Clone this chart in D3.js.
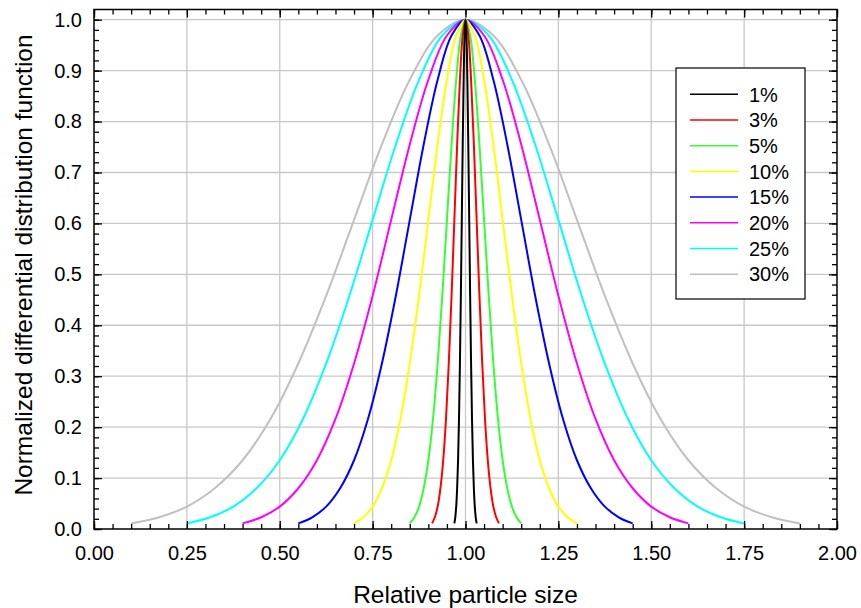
<!DOCTYPE html>
<html>
<head>
<meta charset="utf-8">
<script src="https://cdn.jsdelivr.net/npm/d3@7"></script>
<style>
  html, body { margin: 0; padding: 0; background: #fff; }
  svg text { font-family: "Liberation Sans", Arial, sans-serif; fill: #000; }
</style>
</head>
<body>
<svg id="chart" width="861" height="608"></svg>
<script>
// ---- Data ----
const categories = ["1%", "3%", "5%", "10%", "15%", "20%", "25%", "30%"];
const colors = ["#000000", "#ff0000", "#33ff33", "#ffff00", "#0000ff", "#ff00ff", "#00ffff", "#c0c0c0"];

// normalized height at each sampled point (shared shape of every curve)
const yProfile = [0.011, 0.023, 0.044, 0.080, 0.135, 0.216, 0.325, 0.458, 0.607, 0.755, 0.882, 0.969, 1.000,
                  0.969, 0.882, 0.755, 0.607, 0.458, 0.325, 0.216, 0.135, 0.080, 0.044, 0.023, 0.011];

const x1 = [0.97, 0.9725, 0.975, 0.9775, 0.98, 0.9825, 0.985, 0.9875, 0.99, 0.9925, 0.995, 0.9975, 1.00,
            1.0025, 1.005, 1.0075, 1.01, 1.0125, 1.015, 1.0175, 1.02, 1.0225, 1.025, 1.0275, 1.03];
const x3 = [0.91, 0.9175, 0.925, 0.9325, 0.94, 0.9475, 0.955, 0.9625, 0.97, 0.9775, 0.985, 0.9925, 1.00,
            1.0075, 1.015, 1.0225, 1.03, 1.0375, 1.045, 1.0525, 1.06, 1.0675, 1.075, 1.0825, 1.09];
const x5 = [0.85, 0.8625, 0.875, 0.8875, 0.90, 0.9125, 0.925, 0.9375, 0.95, 0.9625, 0.975, 0.9875, 1.00,
            1.0125, 1.025, 1.0375, 1.05, 1.0625, 1.075, 1.0875, 1.10, 1.1125, 1.125, 1.1375, 1.15];
const x10 = [0.70, 0.725, 0.75, 0.775, 0.80, 0.825, 0.85, 0.875, 0.90, 0.925, 0.95, 0.975, 1.00,
             1.025, 1.05, 1.075, 1.10, 1.125, 1.15, 1.175, 1.20, 1.225, 1.25, 1.275, 1.30];
const x15 = [0.55, 0.5875, 0.625, 0.6625, 0.70, 0.7375, 0.775, 0.8125, 0.85, 0.8875, 0.925, 0.9625, 1.00,
             1.0375, 1.075, 1.1125, 1.15, 1.1875, 1.225, 1.2625, 1.30, 1.3375, 1.375, 1.4125, 1.45];
const x20 = [0.40, 0.45, 0.50, 0.55, 0.60, 0.65, 0.70, 0.75, 0.80, 0.85, 0.90, 0.95, 1.00,
             1.05, 1.10, 1.15, 1.20, 1.25, 1.30, 1.35, 1.40, 1.45, 1.50, 1.55, 1.60];
const x25 = [0.25, 0.3125, 0.375, 0.4375, 0.50, 0.5625, 0.625, 0.6875, 0.75, 0.8125, 0.875, 0.9375, 1.00,
             1.0625, 1.125, 1.1875, 1.25, 1.3125, 1.375, 1.4375, 1.50, 1.5625, 1.625, 1.6875, 1.75];
const x30 = [0.10, 0.175, 0.25, 0.325, 0.40, 0.475, 0.55, 0.625, 0.70, 0.775, 0.85, 0.925, 1.00,
             1.075, 1.15, 1.225, 1.30, 1.375, 1.45, 1.525, 1.60, 1.675, 1.75, 1.825, 1.90];
const xSeries = [x1, x3, x5, x10, x15, x20, x25, x30];

const xTicks = [0, 0.25, 0.5, 0.75, 1.0, 1.25, 1.5, 1.75, 2.0];
const yTicks = [0, 0.1, 0.2, 0.3, 0.4, 0.5, 0.6, 0.7, 0.8, 0.9, 1.0];
const xTitle = "Relative particle size";
const yTitle = "Normalized differential distribution function";

// ---- Layout ----
const W = 861, H = 608;
const margin = { left: 94, right: 24, top: 9.5, bottom: 79 };
const iw = W - margin.left - margin.right;
const ih = H - margin.top - margin.bottom;

const svg = d3.select("#chart");
const g = svg.append("g").attr("transform", `translate(${margin.left},${margin.top})`);

const x = d3.scaleLinear().domain([0, 2]).range([0, iw]);
const y = d3.scaleLinear().domain([0, 1.02]).range([ih, 0]);

// grid
const gridColor = "#c8c8c8";
g.append("g").selectAll("line.vx").data(xTicks.slice(1, -1)).join("line")
  .attr("x1", d => x(d)).attr("x2", d => x(d)).attr("y1", 0).attr("y2", ih)
  .attr("stroke", gridColor).attr("stroke-width", 1.3);
g.append("g").selectAll("line.hy").data(yTicks.slice(1)).join("line")
  .attr("x1", 0).attr("x2", iw).attr("y1", d => y(d)).attr("y2", d => y(d))
  .attr("stroke", gridColor).attr("stroke-width", 1.3);

// curves
const line = d3.line().x(d => x(d[0])).y(d => y(d[1])).curve(d3.curveCatmullRom.alpha(0.5));
// draw widest first so narrow ones sit on top
for (let i = categories.length - 1; i >= 0; i--) {
  const pts = xSeries[i].map((v, j) => [v, yProfile[j]]);
  g.append("path").datum(pts).attr("d", line)
    .attr("fill", "none").attr("stroke", colors[i]).attr("stroke-width", 2);
}

// axes (ticks inside)
const minorX = d3.range(0, 2.0001, 0.05).map(v => +v.toFixed(2));
const minorY = d3.range(0, 1.0001, 0.02).map(v => +v.toFixed(2));
const fmtX = d3.format(".2f"), fmtY = d3.format(".1f");

function styleAxis(sel) {
  sel.select(".domain").remove();
  sel.selectAll(".tick line").attr("stroke", "#000").attr("stroke-width", 1.3);
  sel.selectAll(".tick text").style("font-size", "20px");
}

// bottom
g.append("g").attr("transform", `translate(0,${ih})`)
  .call(d3.axisBottom(x).tickValues(minorX).tickSize(-5).tickFormat(""))
  .call(styleAxis);
g.append("g").attr("transform", `translate(0,${ih})`)
  .call(d3.axisBottom(x).tickValues(xTicks).tickSize(-8).tickPadding(17).tickFormat(fmtX))
  .call(styleAxis);
// top
g.append("g")
  .call(d3.axisTop(x).tickValues(minorX).tickSize(-5).tickFormat(""))
  .call(styleAxis);
g.append("g")
  .call(d3.axisTop(x).tickValues(xTicks).tickSize(-8).tickFormat(""))
  .call(styleAxis);
// left
g.append("g")
  .call(d3.axisLeft(y).tickValues(minorY).tickSize(-5).tickFormat(""))
  .call(styleAxis);
g.append("g")
  .call(d3.axisLeft(y).tickValues(yTicks).tickSize(-8).tickPadding(12).tickFormat(fmtY))
  .call(styleAxis);
// right
g.append("g").attr("transform", `translate(${iw},0)`)
  .call(d3.axisRight(y).tickValues(minorY).tickSize(-5).tickFormat(""))
  .call(styleAxis);
g.append("g").attr("transform", `translate(${iw},0)`)
  .call(d3.axisRight(y).tickValues(yTicks).tickSize(-8).tickFormat(""))
  .call(styleAxis);

// frame
g.append("rect").attr("x", 0).attr("y", 0).attr("width", iw).attr("height", ih)
  .attr("fill", "none").attr("stroke", "#000").attr("stroke-width", 1.5);

// titles
svg.append("text").attr("x", margin.left + iw / 2).attr("y", 603)
  .attr("text-anchor", "middle").style("font-size", "24.5px").text(xTitle);
svg.append("text").attr("transform", `translate(32,265) rotate(-90)`)
  .attr("text-anchor", "middle").style("font-size", "24.5px").text(yTitle);

// legend
const lg = svg.append("g").attr("transform", "translate(676,68)");
lg.append("rect").attr("x", 0).attr("y", 0).attr("width", 129).attr("height", 231)
  .attr("fill", "#fff").attr("stroke", "#000").attr("stroke-width", 1.2);
const rows = lg.selectAll("g.row").data(categories).join("g")
  .attr("transform", (d, i) => `translate(0,${26.3 + i * 25.7})`);
rows.append("line").attr("x1", 14).attr("x2", 62).attr("y1", 0).attr("y2", 0)
  .attr("stroke", (d, i) => colors[i]).attr("stroke-width", 1.5);
rows.append("text").attr("x", 73).attr("y", 0).attr("dy", "0.36em")
  .style("font-size", "20px").text(d => d);
</script>
</body>
</html>
